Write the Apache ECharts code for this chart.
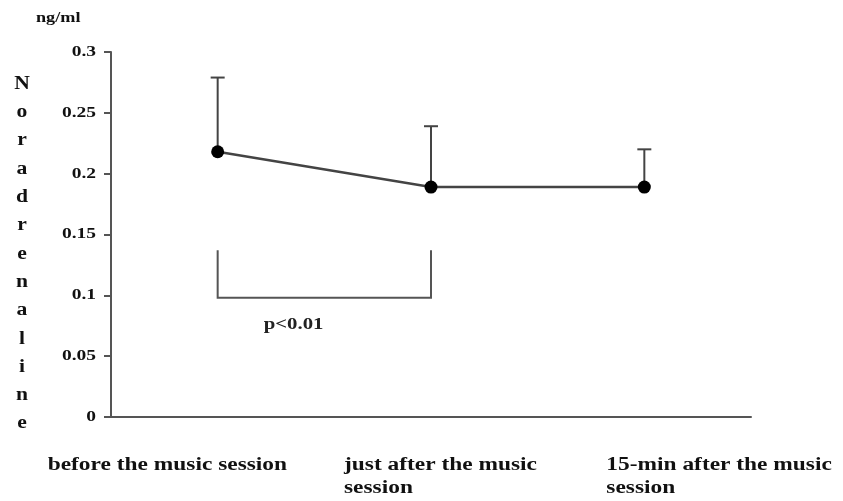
<!DOCTYPE html>
<html>
<head>
<meta charset="utf-8">
<script src="https://cdn.jsdelivr.net/npm/echarts@6/dist/echarts.min.js"></script>
<style>
  html, body { margin: 0; padding: 0; background: #fff; }
  #main { width: 843px; height: 501px; }
</style>
</head>
<body>
<div id="main"></div>
<script>
var categories = ['before the music session', 'just after the music\nsession', '15-min after the music\nsession'];
var means = [0.218, 0.189, 0.189];
var errTop = [0.279, 0.239, 0.220];
var yTicks = [0, 0.05, 0.1, 0.15, 0.2, 0.25, 0.3];
var bracket = [0, 1, 0.137, 0.098]; // from cat, to cat, top, bottom
var pText = 'p<0.01';
var pLevel = 0.076;
var yTitle = 'Noradrenaline';
var yUnit = 'ng/ml';

var FONT = '"Liberation Serif", "DejaVu Serif", serif';
var SX = 1.3; // the original type is stretched sideways
var myChart = echarts.init(document.getElementById('main'));

var errData = categories.map(function (c, i) { return [i, means[i], errTop[i]]; });

myChart.setOption({
  animation: false,
  grid: { left: 111, top: 52, width: 640, height: 365 },
  xAxis: {
    type: 'category',
    data: categories,
    boundaryGap: true,
    axisLine: { lineStyle: { color: '#555', width: 2 } },
    axisTick: { alignWithLabel: true, length: 7, lineStyle: { color: '#555', width: 2 } },
    axisLabel: { show: false }
  },
  yAxis: {
    type: 'value',
    min: 0,
    max: 0.3,
    interval: 0.05,
    axisLine: { show: true, lineStyle: { color: '#555', width: 2 } },
    axisTick: { show: true, length: 7, lineStyle: { color: '#555', width: 2 } },
    splitLine: { show: false },
    axisLabel: { show: false }
  },
  series: [
    {
      type: 'custom',
      z: 1,
      data: errData,
      renderItem: function (params, api) {
        var p = api.coord([api.value(0), api.value(1)]);
        var t = api.coord([api.value(0), api.value(2)]);
        var style = { stroke: '#444', lineWidth: 2 };
        return {
          type: 'group',
          children: [
            { type: 'line', shape: { x1: p[0], y1: p[1], x2: t[0], y2: t[1] }, style: style },
            { type: 'line', shape: { x1: t[0] - 7, y1: t[1], x2: t[0] + 7, y2: t[1] }, style: style }
          ]
        };
      }
    },
    {
      type: 'line',
      z: 3,
      data: means,
      symbol: 'circle',
      symbolSize: 13,
      itemStyle: { color: '#000' },
      lineStyle: { color: '#444', width: 2.5 }
    },
    {
      type: 'custom',
      z: 2,
      data: [bracket],
      renderItem: function (params, api) {
        var a = api.coord([api.value(0), api.value(2)]);
        var b = api.coord([api.value(1), api.value(3)]);
        var txt = api.coord([api.value(0), pLevel]);
        var style = { stroke: '#555', lineWidth: 2, fill: null };
        return {
          type: 'group',
          children: [
            { type: 'polyline', shape: { points: [[a[0], a[1]], [a[0], b[1]], [b[0], b[1]], [b[0], a[1]]] }, style: style },
            { type: 'text', x: txt[0] + 46, y: txt[1], scaleX: SX, style: { text: pText, fill: '#222', font: 'bold 16px ' + FONT, textAlign: 'left', textVerticalAlign: 'middle' } }
          ]
        };
      }
    }
  ]
});

// stretched texts: title, unit, tick labels and category labels
var graphics = [];
graphics.push({
  type: 'text', x: 22, y: 70, scaleX: 1.2,
  style: { text: yTitle.split('').join('\n'), fill: '#111', font: 'bold 18px ' + FONT, lineHeight: 28.3, textAlign: 'center' }
});
graphics.push({
  type: 'text', x: 36, y: 11, scaleX: SX,
  style: { text: yUnit, fill: '#111', font: 'bold 14px ' + FONT }
});
yTicks.forEach(function (v) {
  var py = myChart.convertToPixel({ yAxisIndex: 0 }, v);
  graphics.push({
    type: 'text', x: 96, y: py, scaleX: SX,
    style: { text: String(v), fill: '#111', font: 'bold 15px ' + FONT, textAlign: 'right', textVerticalAlign: 'middle' }
  });
});
var labelOffsets = [-170, -87, -38];
categories.forEach(function (c, i) {
  var px = myChart.convertToPixel({ xAxisIndex: 0 }, i);
  graphics.push({
    type: 'text', x: px + labelOffsets[i], y: 454, scaleX: SX,
    style: { text: c, fill: '#111', font: 'bold 18px ' + FONT, lineHeight: 23, textAlign: 'left' }
  });
});
myChart.setOption({ graphic: graphics });
</script>
</body>
</html>
